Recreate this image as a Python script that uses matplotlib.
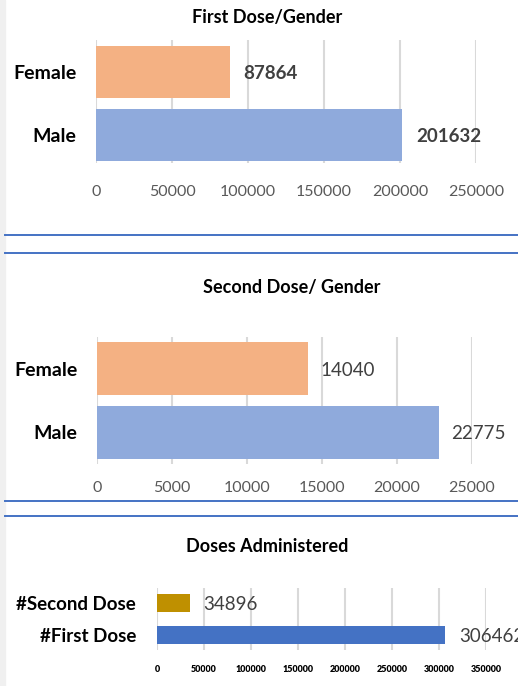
import matplotlib
matplotlib.use("Agg")
import matplotlib.pyplot as plt
from matplotlib.patches import Rectangle
from matplotlib.lines import Line2D

plt.rcParams["font.family"] = ["Lato", "DejaVu Sans"]

# data
genders = ["Male", "Female"]
first_dose_gender = [201632, 87864]
second_dose_gender = [22775, 14040]
dose_labels = ["#First Dose", "#Second Dose"]
doses_total = [306462, 34896]

first_ticks = [0, 50000, 100000, 150000, 200000, 250000]
second_ticks = [0, 5000, 10000, 15000, 20000, 25000]
doses_ticks = [0, 50000, 100000, 150000, 200000, 250000, 300000, 350000]

W, H = 518, 686
fig = plt.figure(figsize=(W / 100, H / 100), dpi=100)


def px_axes(left, top, right, bottom):
    return fig.add_axes([left / W, 1 - bottom / H, (right - left) / W, (bottom - top) / H])


def style(ax, ticks, xmax, ylim, tick_size, tick_bold, tick_pad, cat_size, cat_pad):
    ax.set_xlim(0, xmax)
    ax.set_ylim(*ylim)
    ax.set_xticks(ticks)
    ax.set_xticklabels([str(t) for t in ticks], fontsize=tick_size,
                       fontweight="heavy" if tick_bold else "normal",
                       color="#000000" if tick_bold else "#595959")
    for s in ax.spines.values():
        s.set_visible(False)
    ax.tick_params(axis="x", length=0, pad=tick_pad)
    ax.tick_params(axis="y", length=0, pad=cat_pad, labelsize=cat_size)
    for lbl in ax.get_yticklabels():
        lbl.set_fontweight("bold")
    ax.grid(True, axis="x", color="#D9D9D9", linewidth=1.5)
    ax.set_axisbelow(True)
    ax.patch.set_alpha(0)


# panel 1: first dose by gender
ax1 = px_axes(96, 40, 476, 163)
bars = ax1.barh(genders, first_dose_gender, height=0.82,
                color=["#8FAADC", "#F4B183"])
style(ax1, first_ticks, 250000, (-0.44, 1.5), 11.5, False, 16, 14, 14)
for b, v in zip(bars, first_dose_gender):
    ax1.annotate(str(v), (b.get_width(), b.get_y() + b.get_height() / 2),
                 xytext=(10, -1), textcoords="offset points", va="center",
                 fontsize=13.5, fontweight="bold", color="#404040",
                 annotation_clip=False)

# panel 2: second dose by gender
ax2 = px_axes(97, 337, 472, 464)
bars = ax2.barh(genders, second_dose_gender, height=0.83,
                color=["#8FAADC", "#F4B183"])
style(ax2, second_ticks, 25000, (-0.5, 1.5), 11.5, False, 12, 14, 14)
for b, v in zip(bars, second_dose_gender):
    ax2.annotate(str(v), (b.get_width(), b.get_y() + b.get_height() / 2),
                 xytext=(9, -1), textcoords="offset points", va="center",
                 fontsize=13.5, color="#404040", annotation_clip=False)

# panel 3: doses administered
ax3 = px_axes(157, 588, 486, 650)
bars = ax3.barh(dose_labels, doses_total, height=0.55,
                color=["#4472C4", "#BF9000"])
style(ax3, doses_ticks, 350000, (-0.45, 1.46), 6.5, True, 11, 13.5, 15)
for b, v in zip(bars, doses_total):
    ax3.annotate(str(v), (b.get_width(), b.get_y() + b.get_height() / 2),
                 xytext=(10, -1), textcoords="offset points", va="center",
                 fontsize=13.5, color="#404040", annotation_clip=False)

# titles
fig.text(267.5 / W, 1 - 18 / H, "First Dose/Gender", ha="center", va="center",
         fontsize=13, fontweight="bold")
fig.text(292 / W, 1 - 287 / H, "Second Dose/ Gender", ha="center", va="center",
         fontsize=13, fontweight="bold")
fig.text(267 / W, 1 - 547 / H, "Doses Administered", ha="center", va="center",
         fontsize=13, fontweight="bold")

# screenshot frame: gray strip and blue separators
fig.patches.append(Rectangle((0, 0), 5 / W, 1, transform=fig.transFigure,
                             color="#F0F0F0", zorder=0))
for y in [235, 253, 501, 516]:
    fig.lines.append(Line2D([5 / W, 1], [1 - y / H, 1 - y / H],
                            transform=fig.transFigure, color="#4472C4", linewidth=1.4))

fig.savefig("out.png", dpi=100)
